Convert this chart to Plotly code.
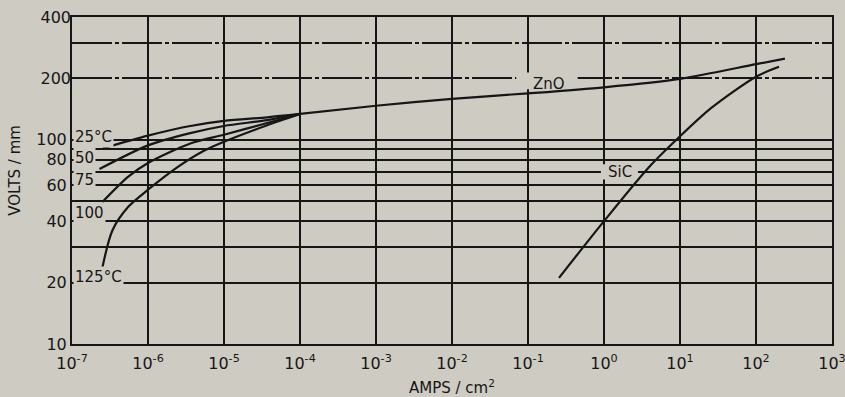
import math
import plotly.graph_objects as go

# ---------------- data ----------------
# temperature curves (left part, merging into the ZnO curve at 1e-4 A/cm2)
t25_x = [2.56e-7, 1e-6, 3.6e-6, 1e-5, 3.7e-5, 1e-4]
t25_y = [91, 105, 117, 124, 129, 134]

t50_x = [2.3e-7, 1e-6, 3.6e-6, 1e-5, 3.7e-5, 1e-4]
t50_y = [72, 94, 108, 117, 125, 134]

t100_x = [2.5e-7, 5.5e-7, 1e-6, 3.6e-6, 1e-5, 3.7e-5, 1e-4]
t100_y = [49.5, 66, 77, 96, 106, 121, 134]

t125_x = [2.5e-7, 3.4e-7, 5.5e-7, 1e-6, 2.5e-6, 5.6e-6, 1e-5, 3.7e-5, 1e-4]
t125_y = [23.5, 36, 47, 57, 74, 89, 98, 118, 134]

zno_x = [1e-4, 1e-3, 1e-2, 1e-1, 1, 10, 100, 240]
zno_y = [134, 147, 159, 169, 181, 199, 235, 250]

sic_x = [0.256, 1.0, 3.9, 9.7, 25.6, 100, 201]
sic_y = [21.1, 40, 73.5, 103, 143, 204, 228]

temp_labels = ["25°C", "50", "75", "100", "125°C"]
temp_label_y = [103, 81.4, 63.6, 43.9, 21.3]

x_tickvals = [1e-7, 1e-6, 1e-5, 1e-4, 1e-3, 1e-2, 1e-1, 1e0, 1e1, 1e2, 1e3]
x_ticktext = ["10<sup>-7</sup>", "10<sup>-6</sup>", "10<sup>-5</sup>", "10<sup>-4</sup>",
              "10<sup>-3</sup>", "10<sup>-2</sup>", "10<sup>-1</sup>", "10<sup>0</sup>",
              "10<sup>1</sup>", "10<sup>2</sup>", "10<sup>3</sup>"]
y_tickvals = [10, 20, 40, 60, 80, 100]
y_minor = [30, 50, 70, 90]
y2_tickvals = [200, 300, 400]
y2_ticktext = ["200", "", "400"]

# ---------------- style ----------------
BG = "#cecbc3"
INK = "#161616"
FONT = "DejaVu Sans"

fig = go.Figure()
for name, xs, ys in [("25°C", t25_x, t25_y), ("50", t50_x, t50_y),
                     ("100", t100_x, t100_y), ("125°C", t125_x, t125_y),
                     ("ZnO", zno_x, zno_y), ("SiC", sic_x, sic_y)]:
    fig.add_trace(go.Scatter(x=xs, y=ys, mode="lines", name=name,
                             line=dict(color=INK, width=2.2, shape="spline", smoothing=0.8),
                             showlegend=False, hoverinfo="skip"))
# helper trace for the overlaid upper-grid axis
fig.add_trace(go.Scatter(x=[1e-7], y=[400], yaxis="y2", mode="markers",
                         marker=dict(size=0.1, opacity=0), showlegend=False, hoverinfo="skip"))

# labels
for t, y in zip(temp_labels, temp_label_y):
    fig.add_annotation(x=-6.99, y=math.log10(y), text=t, showarrow=False,
                       xanchor="left", yanchor="middle", bgcolor=BG, borderpad=1,
                       font=dict(family=FONT, size=15, color=INK))
fig.add_annotation(x=math.log10(0.19), y=math.log10(188), text="ZnO",
                   showarrow=False, font=dict(family=FONT, size=15, color=INK))
fig.add_annotation(x=math.log10(1.6), y=math.log10(70), text="SiC",
                   showarrow=False, font=dict(family=FONT, size=15, color=INK))

# axis titles
fig.add_annotation(xref="paper", yref="paper", x=0.5, y=-0.131, text="AMPS / cm<sup>2</sup>",
                   showarrow=False, xanchor="center", yanchor="middle",
                   font=dict(family=FONT, size=15, color=INK))
fig.add_annotation(xref="paper", yref="paper", x=-0.075, y=0.53, text="VOLTS / mm",
                   showarrow=False, textangle=-90, xanchor="center", yanchor="middle",
                   font=dict(family=FONT, size=15, color=INK))

# gaps in the grid behind the in-plot labels
fig.add_shape(type="rect", xref="x", yref="y", x0=0.07, x1=0.45, y0=177, y1=214,
              fillcolor=BG, line=dict(width=0), layer="between")
fig.add_shape(type="rect", xref="x", yref="y", x0=0.91, x1=2.8, y0=64, y1=76,
              fillcolor=BG, line=dict(width=0), layer="between")

fig.update_layout(
    width=845, height=397,
    margin=dict(l=72, r=13, t=17, b=53, autoexpand=False),
    paper_bgcolor=BG, plot_bgcolor=BG,
    font=dict(family=FONT, color=INK, size=16),
    xaxis=dict(type="log", range=[-7, 3], tickvals=x_tickvals, ticktext=x_ticktext,
               showgrid=True, gridcolor=INK, gridwidth=1.6, automargin=False,
               showline=True, linecolor=INK, linewidth=1.8, mirror=True,
               ticks="", zeroline=False, ticklabeloverflow="allow", ticklabelstandoff=4,
               tickfont=dict(family=FONT, size=16, color=INK)),
    yaxis=dict(type="log", range=[1, 2.60206], tickvals=y_tickvals,
               ticktext=[str(v) for v in y_tickvals], automargin=False,
               showgrid=True, gridcolor=INK, gridwidth=1.6,
               minor=dict(tickvals=y_minor, showgrid=True, gridcolor=INK, gridwidth=1.6, ticks=""),
               showline=True, linecolor=INK, linewidth=2, mirror=True,
               ticks="", zeroline=False, ticklabeloverflow="allow",
               tickfont=dict(family=FONT, size=16, color=INK)),
    yaxis2=dict(type="log", range=[1, 2.60206], overlaying="y", side="left",
                tickvals=y2_tickvals, ticktext=y2_ticktext, automargin=False,
                showgrid=True, gridcolor=INK, gridwidth=1.6, griddash="40px,3px,4px,3px",
                showline=False, ticks="", zeroline=False, ticklabeloverflow="allow",
                tickfont=dict(family=FONT, size=16, color=INK)),
)

fig.write_html("out.html", config={"displayModeBar": False},
               post_script="document.body.style.margin='0px';")
